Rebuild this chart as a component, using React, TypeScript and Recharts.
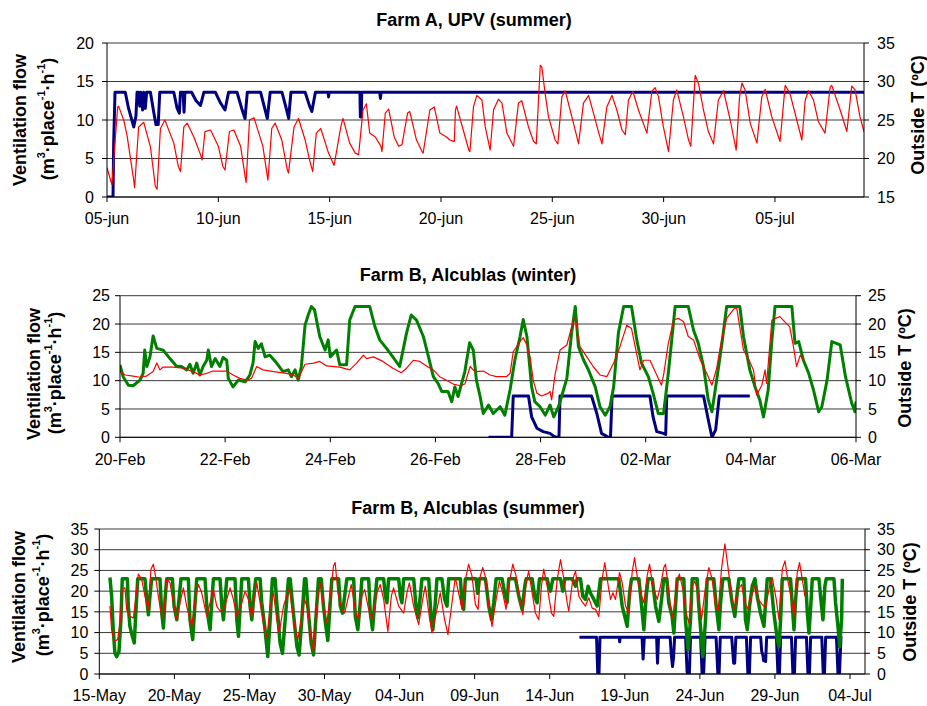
import { LineChart, Line, XAxis, YAxis, CartesianGrid } from 'recharts';

type Pt = [number, number];

const FONT = '"Liberation Sans", Arial, Helvetica, sans-serif';

// ---------- Farm A, UPV (summer) — x in days from 05-jun ----------
const aXTicks = [0, 5, 10, 15, 20, 25, 30];
const aXLabels = ['05-jun', '10-jun', '15-jun', '20-jun', '25-jun', '30-jun', '05-jul'];
const aFlowTicks = [0, 5, 10, 15, 20];
const aTempTicks = [15, 20, 25, 30, 35];

const aFlow: Pt[] = [
  [0, 0], [0.27, 0], [0.3, 7], [0.36, 13.6], [0.82, 13.6], [0.97, 11.5], [1.2, 9.1], [1.3, 10.5], [1.35, 13.6],
  [1.42, 13.6], [1.47, 11.8], [1.52, 13.6], [1.6, 11.3], [1.65, 13.6], [1.72, 11.5], [1.78, 13.6], [1.95, 13.6],
  [2.1, 11], [2.2, 9.4], [2.3, 9.4], [2.37, 13.6], [3.0, 13.6], [3.15, 11.5], [3.25, 10.9], [3.3, 13.6], [3.42, 13.6],
  [3.46, 11], [3.5, 13.6], [3.8, 13.6], [4.0, 12.5], [4.2, 11.9], [4.35, 13.6], [4.87, 13.6], [5.1, 12.2], [5.3, 11.3],
  [5.46, 13.6], [5.84, 13.6], [6.05, 11.5], [6.2, 10.2], [6.3, 13.6], [6.9, 13.6], [7.1, 11.3], [7.2, 10.2], [7.33, 13.6],
  [7.86, 13.6], [8.05, 11.5], [8.16, 10.2], [8.26, 13.6], [8.9, 13.6], [9.1, 11.8], [9.2, 11.1], [9.36, 13.6],
  [9.93, 13.6], [9.95, 13], [9.98, 13.6], [11.36, 13.6], [11.38, 10.4], [11.42, 10.4], [11.44, 13.6], [12.25, 13.6],
  [12.28, 12.8], [12.31, 13.6], [34, 13.6],
];

const aTemp: Pt[] = [
  [0, 18.8], [0.22, 16.6], [0.48, 26.7], [0.52, 26.8], [0.75, 25], [0.9, 23], [1.2, 17.2], [1.24, 16.2], [1.42, 24.1],
  [1.65, 24.7], [1.95, 21.5], [2.17, 16.4], [2.25, 16], [2.4, 23.9], [2.6, 25], [3.0, 22], [3.2, 19], [3.3, 18.3],
  [3.45, 24.1], [3.6, 24.6], [3.9, 22.8], [4.2, 20.5], [4.27, 19.8], [4.4, 23.5], [4.65, 23.7], [5.0, 21.6], [5.2, 19],
  [5.3, 18.5], [5.5, 23.5], [5.7, 23.7], [6.0, 21.6], [6.2, 17.7], [6.25, 16.9], [6.4, 25], [6.6, 25.3], [7.0, 21.6],
  [7.2, 17.7], [7.23, 17.2], [7.4, 23.9], [7.55, 24.6], [7.85, 22.4], [8.1, 18.5], [8.15, 18.1], [8.4, 24.1], [8.6, 25.2],
  [8.9, 22.4], [9.1, 19.8], [9.24, 18.3], [9.4, 23.3], [9.6, 23.9], [9.95, 20.7], [10.2, 19.1], [10.5, 24.1], [10.6, 25.2],
  [10.9, 22], [11.15, 20.7], [11.3, 20.5], [11.5, 26.3], [11.65, 27.1], [11.8, 23.3], [12.05, 22.8], [12.3, 21.6],
  [12.35, 20.9], [12.5, 25.9], [12.65, 26.4], [12.9, 22.8], [13.1, 21.6], [13.25, 21.8], [13.5, 25.9], [13.6, 26.1],
  [13.9, 22.4], [14.15, 20.9], [14.2, 20.7], [14.5, 26.3], [14.7, 26.7], [14.95, 23.3], [15.25, 22.8], [15.4, 22.4],
  [15.6, 22.2], [15.65, 26.3], [15.7, 26.8], [16.0, 23.7], [16.25, 21.1], [16.3, 20.9], [16.46, 26.7], [16.61, 28.2],
  [16.84, 27.6], [16.99, 24.1], [17.21, 21.1], [17.36, 26.3], [17.58, 27.7], [17.74, 27.2], [17.96, 23.3], [18.26, 21.6],
  [18.48, 27.2], [18.63, 27.5], [18.93, 24.1], [19.16, 22.2], [19.28, 21.9], [19.46, 32.1], [19.53, 31.9], [19.68, 28.4],
  [19.83, 25.4], [20.13, 22.4], [20.25, 21.9], [20.43, 28], [20.58, 28.8], [20.95, 24.6], [21.18, 21.9], [21.4, 27.2],
  [21.63, 28.2], [21.85, 25.9], [22.07, 23.5], [22.23, 21.9], [22.45, 26.7], [22.68, 28.2], [22.9, 26.3], [23.13, 23.7],
  [23.28, 23.1], [23.42, 27.6], [23.62, 28.7], [23.87, 26.3], [24.25, 23.3], [24.47, 28.7], [24.62, 29.2], [24.77, 28],
  [24.99, 24.1], [25.22, 20.9], [25.44, 27.6], [25.59, 28.9], [25.89, 25.4], [26.12, 22.4], [26.22, 21.6], [26.42, 30.8],
  [26.57, 29.7], [26.79, 26.3], [27.01, 23.5], [27.24, 21.9], [27.46, 27.6], [27.69, 28.8], [27.99, 25], [28.26, 21.1],
  [28.41, 28], [28.52, 29.8], [28.66, 28.9], [28.89, 24.6], [29.19, 22], [29.41, 28], [29.56, 29], [29.86, 25.4],
  [30.16, 22.8], [30.23, 22.2], [30.46, 29.5], [30.68, 28.4], [30.98, 25], [31.21, 22.4], [31.36, 27.6], [31.51, 28.8],
  [31.73, 27.6], [31.95, 24.8], [32.25, 23.3], [32.48, 29.3], [32.55, 29.5], [32.93, 26.3], [33.23, 23.5], [33.45, 29.4],
  [33.6, 28.9], [33.82, 25.4], [34.0, 23.5],
];

// ---------- Farm B, Alcublas (winter) — x in days from 20-Feb ----------
const bXTicks = [0, 2, 4, 6, 8, 10, 12, 14];
const bXLabels = ['20-Feb', '22-Feb', '24-Feb', '26-Feb', '28-Feb', '02-Mar', '04-Mar', '06-Mar'];
const bTicks = [0, 5, 10, 15, 20, 25];

const bTemp: Pt[] = [
  [0, 11.6], [0.1, 11], [0.25, 10.8], [0.38, 10.6], [0.5, 10.8], [0.63, 11.6], [0.7, 13.1], [0.76, 11.9], [0.82, 12.4],
  [1.01, 12.4], [1.2, 12.2], [1.39, 11.6], [1.52, 11], [1.65, 11.3], [1.77, 11.7], [2.03, 11.7], [2.15, 11], [2.28, 10.4],
  [2.41, 10.1], [2.5, 10.4], [2.6, 12.5], [2.72, 11.9], [2.92, 11.6], [3.17, 11.3], [3.3, 11], [3.39, 10.4], [3.52, 12.9],
  [3.68, 13.1], [3.8, 13.4], [3.93, 12.6], [4.18, 12.4], [4.37, 11.9], [4.5, 13.1], [4.63, 14.5], [4.69, 13.9],
  [4.82, 14.2], [5.0, 13.4], [5.19, 12.2], [5.35, 11.4], [5.45, 12.2], [5.58, 13.6], [5.7, 13.4], [5.83, 12.6],
  [5.96, 11.9], [6.08, 10.7], [6.2, 10.1], [6.34, 9.4], [6.47, 9.1], [6.56, 9.4], [6.66, 12.5], [6.75, 11.6], [6.91, 11.7],
  [7.04, 11], [7.16, 10.7], [7.35, 10.7], [7.42, 11.3], [7.48, 15.1], [7.61, 16.9], [7.67, 17.6], [7.74, 16.3], [7.8, 14.2],
  [7.86, 10.1], [7.93, 7.8], [8.02, 7.3], [8.15, 7.8], [8.18, 8.1], [8.21, 6.6], [8.28, 11.3], [8.37, 15.4], [8.5, 16.3],
  [8.63, 20.8], [8.66, 21], [8.75, 16], [8.88, 14.2], [9.0, 12.5], [9.13, 11], [9.26, 10.7], [9.39, 13.1], [9.51, 16],
  [9.64, 19.8], [9.73, 19.2], [9.89, 11.9], [9.96, 13.6], [10.08, 13.6], [10.21, 11], [10.3, 9.2], [10.34, 11],
  [10.43, 16.6], [10.53, 20.7], [10.62, 21], [10.72, 20.4], [10.81, 17.8], [10.91, 17.2], [11.04, 13.6], [11.16, 11.3],
  [11.26, 9.2], [11.35, 12.2], [11.45, 17.5], [11.54, 21], [11.67, 22.6], [11.73, 22.9], [11.86, 15.4], [11.95, 13.9],
  [12.05, 11.9], [12.11, 7.5], [12.21, 9.2], [12.27, 11.9], [12.3, 9.5], [12.4, 20.7], [12.55, 21.3], [12.74, 19.5],
  [12.81, 16], [12.87, 12.5], [12.94, 14.5], [13.0, 13.6],
];

const bFlow: Pt[] = [
  [0, 12.8], [0.06, 10.7], [0.16, 9.2], [0.25, 9.1], [0.38, 10.1], [0.44, 11.3], [0.47, 15.4], [0.51, 12.5], [0.57, 14.2],
  [0.63, 17.9], [0.7, 15.7], [0.82, 15.4], [0.95, 13.9], [1.08, 12.5], [1.17, 12.5], [1.27, 11.9], [1.33, 12.9],
  [1.39, 11.3], [1.46, 13.1], [1.52, 11], [1.58, 12.5], [1.65, 13.6], [1.68, 15.4], [1.74, 12.5], [1.81, 13.9],
  [1.9, 12.5], [1.96, 14.1], [2.03, 13.6], [2.06, 10.4], [2.15, 8.9], [2.25, 10.1], [2.38, 9.8], [2.47, 11], [2.53, 13.1],
  [2.57, 16.9], [2.63, 15.7], [2.69, 16.5], [2.76, 14.2], [2.85, 14.5], [2.98, 13.1], [3.1, 11.6], [3.2, 11.9],
  [3.26, 10.7], [3.33, 11.9], [3.39, 10.1], [3.45, 12.5], [3.52, 19.8], [3.58, 21.6], [3.64, 23.1], [3.7, 22.5],
  [3.8, 17.8], [3.9, 15.4], [3.96, 17.2], [4.0, 14.2], [4.12, 15.4], [4.18, 12.8], [4.31, 12.8], [4.37, 20.7],
  [4.47, 23.1], [4.75, 23.1], [4.85, 19.5], [4.94, 17.2], [5.07, 15.7], [5.19, 14.2], [5.32, 12.5], [5.45, 18.4],
  [5.54, 21.6], [5.64, 20.7], [5.77, 17.8], [5.86, 14.5], [5.96, 10.7], [6.05, 9.5], [6.12, 8.1], [6.24, 8.1], [6.31, 6.3],
  [6.37, 8.9], [6.43, 7.2], [6.56, 11.6], [6.65, 16.7], [6.72, 15.4], [6.78, 10.1], [6.85, 7.2], [6.91, 4.2], [7.01, 5.7],
  [7.1, 4.2], [7.23, 5.4], [7.32, 3.9], [7.42, 8.4], [7.51, 13.6], [7.61, 17.8], [7.67, 20.8], [7.74, 17.8], [7.83, 8.9],
  [7.89, 6.3], [7.99, 5.4], [8.09, 3.9], [8.18, 5.7], [8.25, 3.6], [8.34, 5.4], [8.4, 7.2], [8.5, 10.4], [8.59, 18.4],
  [8.66, 23.1], [8.72, 16], [8.82, 13.6], [8.91, 11.9], [9.04, 8.9], [9.13, 5.4], [9.23, 3.9], [9.32, 5.4], [9.39, 8.9],
  [9.48, 18.4], [9.58, 23.1], [9.73, 23.1], [9.83, 17.2], [9.92, 13.1], [10.05, 10.7], [10.14, 7.8], [10.24, 4.2],
  [10.34, 4.2], [10.43, 11.3], [10.56, 23.1], [10.81, 23.1], [10.91, 18.9], [11.0, 16.6], [11.1, 12.5], [11.19, 6.6],
  [11.26, 4.5], [11.35, 10.1], [11.45, 16.6], [11.54, 23.1], [11.79, 23.1], [11.86, 17.8], [11.98, 11.9], [12.08, 8.9],
  [12.17, 6.6], [12.24, 3.6], [12.33, 8.4], [12.4, 17.2], [12.46, 23.1], [12.78, 23.1], [12.84, 16.6], [12.91, 16.9],
  [13.0, 13.6], [13.1, 11.3], [13.19, 8.4], [13.29, 4.5], [13.35, 5.4], [13.45, 10.1], [13.54, 16.9], [13.7, 16.3],
  [13.8, 10.7], [13.92, 6], [13.98, 4.5], [14.0, 6.3],
];

const bFlow2: Pt[] = [
  [7.01, 0], [7.45, 0], [7.48, 7.3], [7.77, 7.3], [7.83, 3.6], [7.93, 1.6], [8.05, 1], [8.18, 0.7], [8.25, 0.2], [8.31, 0],
  [8.35, 0], [8.37, 7.3], [8.97, 7.3], [9.07, 4.2], [9.16, 0.7], [9.29, 0], [9.33, 0], [9.36, 7.3], [10.08, 7.3],
  [10.14, 3.6], [10.21, 1], [10.34, 0.7], [10.38, 0.5], [10.4, 7.3], [11.1, 7.3], [11.19, 3.1], [11.26, 0], [11.33, 1.3],
  [11.4, 7.3], [11.98, 7.3],
];

// ---------- Farm B, Alcublas (summer) — x in days from 15-May ----------
const cXTicks = [0, 5, 10, 15, 20, 25, 30, 35, 40, 45, 50];
const cXLabels = ['15-May', '20-May', '25-May', '30-May', '04-Jun', '09-Jun', '14-Jun', '19-Jun', '24-Jun', '29-Jun', '04-Jul'];
const cTicks = [0, 5, 10, 15, 20, 25, 30, 35];

const cTemp: Pt[] = [
  [0.71, 16.4], [0.82, 10.7], [1.0, 7.9], [1.22, 8.3], [1.38, 12.3], [1.53, 20.4], [1.71, 20.8], [1.82, 15.6],
  [2.04, 13.9], [2.27, 13.5], [2.42, 18], [2.6, 24.1], [2.82, 22.9], [3.04, 18.8], [3.27, 15.6], [3.44, 25.3],
  [3.6, 26.5], [3.76, 23.3], [3.93, 18.8], [4.16, 13.9], [4.27, 13.5], [4.49, 22.9], [4.71, 22], [4.93, 17.2],
  [5.16, 13.1], [5.38, 17.2], [5.6, 20.8], [5.82, 16.4], [6.16, 11.5], [6.38, 18], [6.6, 21.6], [6.82, 19.6],
  [7.16, 13.9], [7.38, 17.2], [7.6, 20.4], [7.82, 16.4], [8.04, 15.2], [8.27, 15.6], [8.49, 18], [8.71, 20.8],
  [8.93, 18], [9.16, 13.9], [9.49, 17.2], [9.71, 20], [9.93, 18], [10.16, 13.9], [10.49, 22], [10.71, 17.2],
  [10.93, 12.3], [11.16, 8.7], [11.38, 16.4], [11.6, 19.6], [11.82, 13.1], [11.98, 9.9], [12.27, 16.4], [12.65, 20.8],
  [12.82, 16.4], [13.05, 10.7], [13.22, 8.3], [13.45, 13.1], [13.67, 18], [13.89, 15.6], [14.11, 8.3], [14.27, 5.4],
  [14.49, 16.4], [14.71, 22], [14.93, 16.4], [15.16, 12.3], [15.38, 18.8], [15.6, 26.1], [15.71, 26.9], [15.89, 19.6],
  [16.16, 15.6], [16.34, 14.7], [16.6, 18.8], [16.78, 21.6], [17.05, 15.6], [17.22, 13.1], [17.49, 18.8], [17.67, 20.4],
  [17.94, 15.6], [18.2, 13.1], [18.49, 19.6], [18.71, 21.6], [18.94, 18], [19.22, 10.3], [19.45, 18.8], [19.6, 20.8],
  [19.94, 16.4], [20.27, 14.7], [20.49, 19.6], [20.65, 22], [20.94, 16.4], [21.27, 11.9], [21.54, 18], [21.71, 21.2],
  [21.98, 13.9], [22.16, 9.9], [22.49, 15.6], [22.71, 19.6], [23.0, 13.1], [23.22, 9.5], [23.49, 17.2], [23.71, 23.3],
  [23.98, 18.8], [24.16, 15.6], [24.38, 22.7], [24.6, 26.5], [24.82, 23.7], [25.05, 16.8], [25.23, 15.6], [25.38, 23.7],
  [25.54, 25.7], [25.76, 22.9], [25.94, 16.4], [26.16, 11.5], [26.43, 18], [26.65, 22.4], [26.87, 19.6], [27.09, 15.6],
  [27.27, 21.2], [27.54, 26.5], [27.76, 23.7], [28.05, 17.2], [28.21, 14.3], [28.43, 22], [28.6, 24.9], [28.83, 19.6],
  [29.05, 14.7], [29.27, 13.1], [29.45, 21.2], [29.6, 25.3], [29.83, 21.2], [30.12, 14.7], [30.27, 13.9], [30.5, 22.9],
  [30.72, 27.6], [30.94, 22.9], [31.16, 17.2], [31.27, 15.2], [31.54, 22.9], [31.72, 24.9], [31.94, 18.8], [32.2, 17.2],
  [32.38, 16.4], [32.6, 18.4], [32.83, 15.9], [33.05, 15.6], [33.27, 13.9], [33.49, 22.9], [33.67, 26.9], [33.9, 21.2],
  [34.05, 18], [34.21, 19.6], [34.38, 18], [34.65, 24.5], [34.83, 22], [35.05, 16.4], [35.27, 14.7], [35.49, 24.5],
  [35.65, 28.1], [35.89, 22], [36.12, 18.8], [36.27, 17.2], [36.49, 23.7], [36.65, 26.5], [36.87, 21.2], [37.16, 18],
  [37.38, 21.2], [37.6, 25.7], [37.71, 26.5], [37.89, 21.2], [38.04, 16.4], [38.2, 13.5], [38.49, 22.9], [38.64, 24.1],
  [38.87, 20.4], [39.09, 14.7], [39.27, 12.3], [39.49, 21.2], [39.67, 22.4], [39.89, 19.6], [40.11, 13.1], [40.38, 21.2],
  [40.6, 25.7], [40.82, 22.9], [41.04, 16.4], [41.22, 15.2], [41.44, 25.3], [41.67, 31.4], [41.89, 25.3], [42.11, 18.8],
  [42.33, 15.6], [42.55, 20.4], [42.78, 21.6], [43.0, 17.2], [43.22, 15.6], [43.44, 18.8], [43.67, 21.2], [43.89, 18],
  [44.15, 16.8], [44.38, 16], [44.64, 21.2], [44.82, 23.3], [45.09, 18], [45.27, 13.1], [45.49, 25.3], [45.67, 27.3],
  [45.89, 22], [46.11, 18], [46.27, 13.9], [46.49, 24.5], [46.64, 26.9], [46.82, 22.9], [47.0, 18.8],
];

const cFlow: Pt[] = [
  [0.71, 23.3], [0.82, 18.8], [0.93, 10.7], [1.04, 5], [1.16, 4.2], [1.31, 5.4], [1.44, 13.1], [1.53, 23], [1.87, 23],
  [1.93, 16.4], [2.04, 11.5], [2.2, 9.1], [2.33, 7.5], [2.42, 13.9], [2.56, 23], [3.04, 23], [3.16, 18], [3.27, 14.3],
  [3.38, 19], [3.49, 23], [4.04, 23], [4.16, 14.7], [4.27, 11.1], [4.38, 18], [4.49, 23], [4.87, 23], [4.98, 16.4],
  [5.16, 13.1], [5.31, 18], [5.44, 23], [5.93, 23], [6.04, 13.1], [6.22, 8.3], [6.38, 17.2], [6.49, 23], [7.04, 23],
  [7.16, 16.4], [7.27, 13.1], [7.38, 10.7], [7.49, 17.2], [7.6, 23], [8.04, 23], [8.16, 16.4], [8.27, 13.1], [8.38, 18],
  [8.49, 23], [9.04, 23], [9.16, 13.1], [9.27, 9.1], [9.4, 17.2], [9.49, 23], [9.93, 23], [10.04, 16.4], [10.16, 13.1],
  [10.29, 18.8], [10.42, 23], [10.71, 23], [10.82, 17.2], [11.04, 10.7], [11.22, 4.2], [11.38, 13.1], [11.53, 23],
  [11.71, 23], [11.82, 17.2], [12.04, 7.5], [12.2, 5], [12.38, 13.1], [12.6, 23], [12.71, 23], [12.93, 14.7],
  [13.16, 6.6], [13.31, 4.6], [13.49, 13.1], [13.67, 23], [13.76, 23], [13.89, 16.4], [14.11, 7.5], [14.27, 4.6],
  [14.42, 13.1], [14.6, 23], [14.78, 23], [14.93, 16.4], [15.09, 11.5], [15.22, 8.1], [15.38, 17.2], [15.49, 23],
  [15.94, 23], [16.05, 16.4], [16.2, 14.7], [16.34, 18.8], [16.49, 23], [16.94, 23], [17.05, 13.9], [17.22, 10.7],
  [17.38, 17.2], [17.49, 23], [17.94, 23], [18.05, 14.7], [18.2, 10.7], [18.34, 17.2], [18.49, 23], [18.94, 23],
  [19.05, 18.8], [19.16, 17.2], [19.27, 23], [19.94, 23], [20.05, 18.8], [20.16, 17.2], [20.27, 23], [20.94, 23],
  [21.09, 16.4], [21.22, 13.5], [21.38, 18.8], [21.49, 23], [21.94, 23], [22.11, 13.1], [22.22, 10.7], [22.38, 17.2],
  [22.49, 23], [22.82, 23], [23.0, 18], [23.16, 16.4], [23.27, 23], [24.05, 23], [24.16, 17.2], [24.27, 15.6],
  [24.38, 23], [25.1, 23], [25.2, 19.5], [25.3, 23], [25.72, 23], [25.94, 16.4], [26.12, 13.1], [26.27, 17.2],
  [26.43, 23], [26.83, 23], [27.0, 19.6], [27.16, 17.2], [27.27, 23], [27.72, 23], [27.94, 18.8], [28.16, 15.6],
  [28.34, 21.2], [28.43, 23], [28.83, 23], [29.0, 18.8], [29.16, 17.2], [29.32, 23], [29.83, 23], [29.94, 21.2],
  [30.05, 20], [30.21, 23], [30.72, 23], [30.87, 20], [31.01, 23], [31.5, 23], [31.72, 21.2], [31.83, 23], [32.05, 23],
  [32.2, 18.8], [32.38, 18], [32.56, 21.2], [32.72, 19.5], [32.94, 18], [33.16, 16.4], [33.38, 23], [34.6, 23],
  [34.83, 16.4], [35.16, 11.5], [35.32, 19.6], [35.45, 23], [35.94, 23], [36.12, 16.4], [36.27, 10.7], [36.43, 18.8],
  [36.56, 23], [36.83, 23], [37.05, 16.4], [37.27, 12.7], [37.45, 18], [37.6, 23], [37.8, 23], [37.93, 17.2],
  [38.15, 13.9], [38.27, 9.9], [38.49, 23], [38.93, 23], [39.04, 13.1], [39.22, 5.8], [39.38, 13.1], [39.49, 23],
  [39.82, 23], [39.93, 16.4], [40.11, 8.3], [40.2, 4.2], [40.38, 13.1], [40.49, 23], [40.93, 23], [41.09, 16.4],
  [41.27, 10.7], [41.38, 17.2], [41.53, 23], [41.93, 23], [42.15, 17.2], [42.33, 13.9], [42.49, 19.6], [42.6, 23],
  [42.93, 23], [43.04, 13.1], [43.16, 10.7], [43.31, 16.4], [43.49, 21.2], [43.67, 23], [43.82, 18.8], [44.04, 14.7],
  [44.27, 11.5], [44.38, 17.2], [44.49, 23], [44.71, 23], [44.93, 14.7], [45.16, 8.3], [45.27, 6.6], [45.38, 13.1],
  [45.49, 23], [46.04, 23], [46.16, 16.4], [46.27, 10.7], [46.38, 18], [46.49, 23], [47.04, 23], [47.16, 14.7],
  [47.27, 9.9], [47.4, 17.2], [47.49, 23], [47.93, 23], [48.04, 18.8], [48.2, 13.1], [48.33, 21.2], [48.42, 23],
  [48.93, 23], [49.04, 17.2], [49.22, 10.7], [49.31, 6.6], [49.44, 13.1], [49.49, 23],
];

const cFlow2: Pt[] = [
  [31.98, 8.9], [33.12, 8.9], [33.2, 0], [33.28, 0], [33.35, 8.9], [34.62, 8.9], [34.66, 7.8], [34.7, 8.9], [36.15, 8.9],
  [36.22, 3.6], [36.3, 8.9], [37.12, 8.9], [37.18, 2.6], [37.25, 8.9], [38.02, 8.9], [38.1, 4.5], [38.18, 1.8],
  [38.25, 4], [38.32, 8.9], [39.05, 8.9], [39.15, 0.5], [39.22, 0], [39.3, 0], [39.38, 8.9], [40.05, 8.9], [40.15, 0],
  [40.25, 0], [40.35, 8.9], [41.08, 8.9], [41.2, 0], [41.28, 0], [41.36, 8.9], [42.12, 8.9], [42.25, 2.6], [42.32, 2.6],
  [42.4, 8.9], [43.1, 8.9], [43.2, 0], [43.3, 0], [43.38, 8.9], [44.05, 8.9], [44.12, 5.5], [44.2, 4.5], [44.25, 3.2],
  [44.32, 4.2], [44.38, 3], [44.45, 8.9], [45.1, 8.9], [45.2, 0], [45.3, 0], [45.38, 8.9], [46.1, 8.9], [46.2, 0],
  [46.3, 0], [46.38, 8.9], [47.1, 8.9], [47.2, 0], [47.3, 0], [47.38, 8.9], [48.12, 8.9], [48.22, 0], [48.3, 0],
  [48.38, 8.9], [49.1, 8.9], [49.2, 0], [49.3, 0], [49.4, 8.9], [49.49, 8.9],
];

const RED = '#ff0000';
const NAVY = '#000080';
const GREEN = '#008000';

const toRows = (a: Pt[]) => a.map(([d, v]) => ({ d, v }));

interface Series { data: Pt[]; axis: 'l' | 'r'; color: string; width: number; }

interface PanelProps {
  top: number; height: number;
  margin: { top: number; right: number; bottom: number; left: number };
  wL: number; wR: number; xMax: number;
  xTicks: number[]; xLabels: string[];
  lTicks: number[]; rTicks: number[];
  tmL: number; tmR: number;
  series: Series[];
}

const tickStyle = { fontSize: 16, fill: '#000', fontFamily: FONT };

function Panel(p: PanelProps) {
  return (
    <div style={{ position: 'absolute', left: 0, top: p.top, width: 927, height: p.height }}>
      <LineChart width={927} height={p.height} margin={p.margin}>
        <CartesianGrid yAxisId="l" vertical={false} stroke="#3a3a3a" strokeWidth={1} />
        <XAxis
          type="number" dataKey="d" domain={[0, p.xMax]} ticks={p.xTicks} interval={0} allowDataOverflow
          tickFormatter={(v: number) => p.xLabels[p.xTicks.indexOf(v)] ?? ''}
          height={30} tickSize={5} tickMargin={11} tick={tickStyle}
          axisLine={{ stroke: '#000' }} tickLine={{ stroke: '#000' }}
        />
        <YAxis
          yAxisId="l" type="number" domain={[p.lTicks[0], p.lTicks[p.lTicks.length - 1]]} ticks={p.lTicks}
          interval={0} allowDataOverflow width={p.wL} tickSize={5} tickMargin={p.tmL} tick={tickStyle}
          axisLine={{ stroke: '#000' }} tickLine={{ stroke: '#000' }}
        />
        <YAxis
          yAxisId="r" orientation="right" type="number" domain={[p.rTicks[0], p.rTicks[p.rTicks.length - 1]]}
          ticks={p.rTicks} interval={0} allowDataOverflow width={p.wR} tickSize={5} tickMargin={p.tmR} tick={tickStyle}
          axisLine={{ stroke: '#000' }} tickLine={{ stroke: '#000' }}
        />
        {p.series.map((s, i) => (
          <Line
            key={i} data={toRows(s.data)} dataKey="v" yAxisId={s.axis} type="linear"
            stroke={s.color} strokeWidth={s.width} dot={false} activeDot={false}
            isAnimationActive={false} strokeLinejoin="round"
          />
        ))}
      </LineChart>
    </div>
  );
}

function FlowTitle({ x1, x2, cy1, cy2 }: { x1: number; x2: number; cy1: number; cy2: number }) {
  return (
    <>
      <text transform={`translate(${x1},${cy1}) rotate(-90)`} textAnchor="middle" dominantBaseline="central"
        fontSize={18} fontWeight="bold" fontFamily={FONT}>Ventilation flow</text>
      <text transform={`translate(${x2},${cy2}) rotate(-90)`} textAnchor="middle" dominantBaseline="central"
        fontSize={18} fontWeight="bold" fontFamily={FONT}>
        (m<tspan dy={-7} fontSize={11}>3</tspan><tspan dy={7}>·place</tspan>
        <tspan dy={-7} fontSize={11}>-1</tspan><tspan dy={7}>·h</tspan>
        <tspan dy={-7} fontSize={11}>-1</tspan><tspan dy={7}>)</tspan>
      </text>
    </>
  );
}

function TempTitle({ x, cy }: { x: number; cy: number }) {
  return (
    <text transform={`translate(${x},${cy}) rotate(-90)`} textAnchor="middle" dominantBaseline="central"
      fontSize={18} fontWeight="bold" fontFamily={FONT}>Outside T (ºC)</text>
  );
}

function Title({ x, y, text }: { x: number; y: number; text: string }) {
  return (
    <text x={x} y={y} textAnchor="middle" dominantBaseline="central" fontSize={18} fontWeight="bold" fontFamily={FONT}>
      {text}
    </text>
  );
}

export default function App() {
  return (
    <div style={{ position: 'absolute', left: 0, top: 0, width: 927, height: 706, background: '#fff', overflow: 'hidden' }}>
      <Panel
        top={0} height={235} margin={{ top: 43, right: 0, bottom: 8, left: 0 }} wL={107} wR={63} xMax={34}
        xTicks={aXTicks} xLabels={aXLabels} lTicks={aFlowTicks} rTicks={aTempTicks} tmL={8} tmR={8}
        series={[
          { data: aFlow, axis: 'l', color: NAVY, width: 3 },
          { data: aTemp, axis: 'r', color: RED, width: 1.2 },
        ]}
      />
      <Panel
        top={250} height={220} margin={{ top: 45.7, right: 0, bottom: 2.7, left: 0 }} wL={120} wR={71} xMax={14}
        xTicks={bXTicks} xLabels={bXLabels} lTicks={bTicks} rTicks={bTicks} tmL={5} tmR={7}
        series={[
          { data: bFlow2, axis: 'l', color: NAVY, width: 3 },
          { data: bFlow, axis: 'l', color: GREEN, width: 3 },
          { data: bTemp, axis: 'r', color: RED, width: 1.2 },
        ]}
      />
      <Panel
        top={480} height={226} margin={{ top: 49, right: 0, bottom: 2, left: 0 }} wL={99.3} wR={62} xMax={51}
        xTicks={cXTicks} xLabels={cXLabels} lTicks={cTicks} rTicks={cTicks} tmL={6} tmR={7}
        series={[
          { data: cFlow2, axis: 'l', color: NAVY, width: 3 },
          { data: cFlow, axis: 'l', color: GREEN, width: 3.5 },
          { data: cTemp, axis: 'r', color: RED, width: 1.2 },
        ]}
      />
      <svg width={927} height={706} style={{ position: 'absolute', left: 0, top: 0, pointerEvents: 'none' }}>
        <Title x={474} y={20} text="Farm A, UPV (summer)" />
        <Title x={468} y={275} text="Farm B, Alcublas (winter)" />
        <Title x={468} y={507.5} text="Farm B, Alcublas (summer)" />
        <FlowTitle x1={19.5} x2={48} cy1={120} cy2={119} />
        <FlowTitle x1={34} x2={55} cy1={374} cy2={373} />
        <FlowTitle x1={19} x2={42.5} cy1={597} cy2={595} />
        <TempTitle x={918} cy={115} />
        <TempTitle x={905} cy={368} />
        <TempTitle x={910} cy={602} />
      </svg>
    </div>
  );
}
